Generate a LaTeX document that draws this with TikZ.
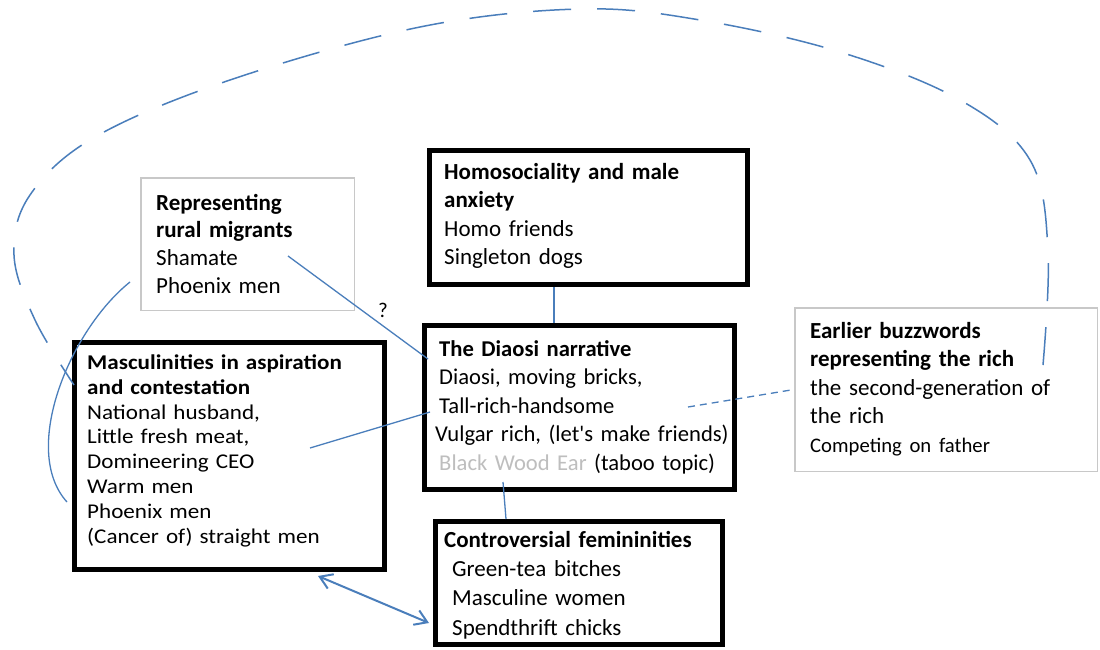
\documentclass[tikz,border=0pt]{standalone}
\usepackage{fontspec}
\setmainfont{Carlito}
\newfontfamily\widefont[FakeStretch=1.1]{Carlito}
\usetikzlibrary{arrows.meta,calc}
\definecolor{linkblue}{RGB}{74,126,187}
\definecolor{paleframe}{RGB}{200,200,200}
\definecolor{fadedtext}{RGB}{190,190,190}
% fixed height for the first line of every text block
\newcommand\fixtop{\rule{0pt}{20pt}}
\begin{document}
\begin{tikzpicture}[x=1pt,y=-1pt,
  heavybox/.style={draw=black, line width=5pt, inner sep=0pt},
  lightbox/.style={draw=paleframe, line width=1.5pt, inner sep=0pt},
  boxtext/.style={anchor=north west, inner sep=0pt, align=left,
                  font=\fontsize{23}{28.5}\selectfont},
  link/.style={draw=linkblue, line width=1.3pt},
  farlink/.style={link, line width=1.5pt, dash pattern=on 38pt off 26pt},
  nearlink/.style={link, dash pattern=on 7pt off 5pt},
  bothways/.style={link, line width=2pt,
    {Straight Barb[length=12pt,width=15.5pt]}-{Straight Barb[length=12pt,width=15.5pt]}}
]
\fill[white] (0,0) rectangle (1100,650);
\useasboundingbox (0,0) rectangle (1100,650);

% frames
\node[heavybox, minimum width=318pt, minimum height=134pt] (homo)   at (588.5,217.5) {};
\node[heavybox, minimum width=310pt, minimum height=164pt] (diaosi) at (579.5,407.5) {};
\node[heavybox, minimum width=287pt, minimum height=123pt] (contro) at (579,583) {};
\node[heavybox, minimum width=310pt, minimum height=227pt] (masc)   at (229.5,456) {};
\node[lightbox, minimum width=213.5pt, minimum height=132.5pt] (rural)   at (247.5,244) {};
\node[lightbox, minimum width=302.5pt, minimum height=163.5pt] (earlier) at (946,389.5) {};

% texts
\node[boxtext, text width=300pt] (homotext) at (444,159)
  {\fixtop{\bfseries Homosociality and male\\anxiety}\\Homo friends\\Singleton dogs};
\node[boxtext, text width=300pt, font=\fontsize{22.6}{28.5}\selectfont] (diaositext) at (439,336)
  {\fixtop{\bfseries The Diaosi narrative}\\Diaosi, moving bricks,\\Tall-rich-handsome\\
   \hspace*{-4pt}Vulgar rich, (let\textquotesingle s make friends)\\
   {\color{fadedtext}Black Wood Ear} (taboo topic)};
\node[boxtext, text width=280pt, font=\fontsize{23}{29.3}\selectfont] (controtext) at (444,527)
  {\fixtop{\bfseries Controversial femininities}\\\hspace*{8pt}Green-tea bitches\\
   \hspace*{8pt}Masculine women\\\hspace*{8pt}Spendthrift chicks};
\node[boxtext, text width=300pt, font=\widefont\fontsize{21}{24.9}\selectfont] (masctext) at (87,349)
  {\fixtop{\bfseries Masculinities in aspiration\\and contestation}\\National husband,\\
   Little fresh meat,\\Domineering CEO\\Warm men\\Phoenix men\\(Cancer of) straight men};
\node[boxtext, text width=200pt, font=\fontsize{23}{27.7}\selectfont] (ruraltext) at (156,190)
  {\fixtop{\bfseries Representing\\rural migrants}\\Shamate\\Phoenix men};
\node[boxtext, text width=285pt] (earliertext) at (810,318)
  {\fixtop{\bfseries Earlier buzzwords\\representing the rich}\\the second-generation of\\
   the rich\\{\fontsize{20.7}{28.5}\selectfont Competing on father}};

% connectors
\coordinate (hdx) at (554,0);
\draw[link] (homo.south -| hdx) -- (diaosi.north -| hdx);

\coordinate (dcTop) at (503,482);
\coordinate (dcx) at (506,0);
\draw[link] (dcTop) -- (contro.north -| dcx);

\coordinate (shamateEnd) at (288,256);
\coordinate (diaosiIn) at (428,359);
\draw[link] (shamateEnd) -- (diaosiIn);
\node[font=\fontsize{21}{24}\selectfont, inner sep=0pt] (query) at (383,310) {?};

\coordinate (tallEnd) at (430,412);
\coordinate (mascIn) at (310,448);
\draw[link] (tallEnd) -- (mascIn);

\coordinate (richIn) at (688,407);
\draw[nearlink] (richIn) -- (earlier.west);

\coordinate (ruralFoot) at (130,282);
\coordinate (mascSide) at (67,502);
\draw[link] (ruralFoot) .. controls (70,330) and (20,450) .. (mascSide);

\coordinate (arcStart) at (1043,365);
\coordinate (arcEnd) at (74,385);
\draw[farlink] plot[smooth, tension=0.6] coordinates {(arcStart) (1048,250) (1030,160)
  (960,100) (840,52) (700,20) (580,9) (420,27) (230,80) (95,137) (30,195) (14,255)
  (35,320) (arcEnd)};

\draw[bothways] ($(masc.south)+(88.5,4)$) -- ($(contro.west)+(-4,40)$);
\end{tikzpicture}
\end{document}
